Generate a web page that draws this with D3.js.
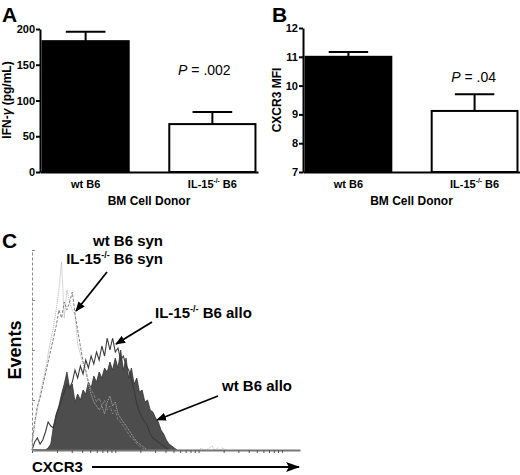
<!DOCTYPE html>
<html>
<head>
<meta charset="utf-8">
<script src="https://cdn.jsdelivr.net/npm/d3@7"></script>
<style>
  body { margin: 0; background: #fff; }
  svg { display: block; font-family: "Liberation Sans", Arial, sans-serif; }
</style>
</head>
<body>
<div id="chart"></div>
<script>
// panels A and B
const donors = ["wt B6", "IL-15-/- B6"];
const ifngMean = [183, 67];
const ifngErr = [13, 17];
const ifngTicks = [0, 50, 100, 150, 200];
const mfiMean = [11.0, 9.12];
const mfiErr = [0.17, 0.58];
const mfiTicks = [7, 8, 9, 10, 11, 12];

// panel C: events per bin, 31 bins per log decade starting at 10^0
const binsPerDecade = 31;
const wtSyn = [2, 12, 20, 28, 34, 40, 48, 55, 62, 70, 80, 94, 66, 80, 74, 70, 68, 53, 48, 43,
  39, 33, 28, 24, 22, 20, 22, 18, 24, 27, 22, 24, 18, 16, 14, 12, 10, 8, 6, 4,
  3, 2, 1, 0, 0, 0, 0, 0, 0, 0, 0, 0, 0, 0, 0, 0, 0, 0, 0, 0,
  0, 0, 0, 1, 0, 0, 1, 2, 0, 1, 0, 1, 0];
const il15Syn = [4, 14, 22, 26, 32, 38, 44, 50, 56, 62, 70, 66, 74, 70, 74, 79, 68, 60, 52, 44,
  40, 34, 30, 28, 24, 26, 22, 25, 20, 22, 18, 20, 15, 14, 12, 10, 8, 6, 5, 3,
  2, 1, 0];
const il15Allo = [0, 4, 6, 3, 5, 9, 14, 12, 11, 17, 21, 25, 29, 33, 31, 34, 40, 36, 42, 38,
  45, 41, 47, 43, 49, 45, 52, 47, 56, 50, 56, 49, 51, 45, 47, 42, 40, 35, 30, 23,
  19, 16, 14, 12, 8, 6, 5, 4, 3, 2, 1, 0];
const wtAllo = [0, 0, 0, 0, 0, 0, 1, 3, 12, 18, 22, 28, 33, 39, 31, 33, 24, 28, 25, 30,
  28, 34, 31, 37, 34, 39, 36, 41, 39, 44, 40, 46, 41, 50, 40, 46, 36, 41, 33, 36,
  29, 30, 24, 25, 20, 19, 16, 14, 10, 8, 5, 3, 2, 1, 0];
const cxcr3Ticks = [1, 2, 3, 4, 5, 6, 7, 8, 9, 10, 20, 30, 40, 50, 60, 70, 80, 90,
  100, 200, 300, 400, 500, 600, 700, 800, 900, 1000];
const eventTicks = [0, 25, 50, 75, 100];

const svg = d3.select("#chart").append("svg")
  .attr("width", 520)
  .attr("height", 475);

const defs = svg.append("defs");
defs.append("marker")
  .attr("id", "head")
  .attr("viewBox", "0 0 10 8")
  .attr("refX", 9).attr("refY", 4)
  .attr("markerUnits", "userSpaceOnUse")
  .attr("markerWidth", 10).attr("markerHeight", 8)
  .attr("orient", "auto")
  .append("path").attr("d", "M0,0L10,4L0,8Z").attr("fill", "#000");
defs.append("marker")
  .attr("id", "bighead")
  .attr("viewBox", "0 0 14 10")
  .attr("refX", 13).attr("refY", 5)
  .attr("markerUnits", "userSpaceOnUse")
  .attr("markerWidth", 14).attr("markerHeight", 10)
  .attr("orient", "auto")
  .append("path").attr("d", "M0,0L14,5L0,10L3,5Z").attr("fill", "#000");

// text with the -/- written as superscript
function supText(text, str, size) {
  const parts = str.split("-/-");
  text.text(null);
  text.append("tspan").text(parts[0]);
  if (parts.length > 1) {
    text.append("tspan").attr("font-size", size * 0.6).attr("dy", -size * 0.42).text("-/-");
    text.append("tspan").attr("dy", size * 0.42).text(parts[1]);
  }
}

function barPanel(opts) {
  const g = svg.append("g");
  const x = d3.scaleBand().domain(donors).range(opts.xRange).paddingInner(0.32).paddingOuter(0.02);
  const y = d3.scaleLinear().domain(opts.domain).range([172, opts.top]);
  const bw = x.bandwidth();

  g.selectAll("rect").data(opts.mean).join("rect")
    .attr("x", (d, i) => x(donors[i]))
    .attr("y", d => y(d))
    .attr("width", bw)
    .attr("height", d => y(opts.domain[0]) - y(d))
    .attr("fill", (d, i) => i === 0 ? "#000" : "#fff")
    .attr("stroke", "#000")
    .attr("stroke-width", 2);

  const err = g.selectAll("g.err").data(opts.mean).join("g").attr("class", "err")
    .attr("stroke", "#000").attr("stroke-width", 2);
  err.append("line")
    .attr("x1", (d, i) => x(donors[i]) + bw / 2)
    .attr("x2", (d, i) => x(donors[i]) + bw / 2)
    .attr("y1", d => y(d))
    .attr("y2", (d, i) => y(d + opts.err[i]));
  err.append("line")
    .attr("x1", (d, i) => x(donors[i]) + bw * 0.27)
    .attr("x2", (d, i) => x(donors[i]) + bw * 0.73)
    .attr("y1", (d, i) => y(d + opts.err[i]))
    .attr("y2", (d, i) => y(d + opts.err[i]));

  const yAxis = g.append("g")
    .attr("transform", `translate(${opts.xRange[0]},0)`)
    .call(d3.axisLeft(y).tickValues(opts.ticks).tickFormat(d3.format("d"))
      .tickSize(4).tickPadding(1).tickSizeOuter(0));
  const xAxis = g.append("g")
    .attr("transform", "translate(0,172)")
    .call(d3.axisBottom(x).tickSize(0).tickPadding(8).tickSizeOuter(0));
  xAxis.selectAll(".tick text").each(function (d) { supText(d3.select(this), d, 11); });

  [yAxis, xAxis].forEach(a => {
    a.attr("font-family", null).attr("font-size", 11).attr("font-weight", "bold");
    a.selectAll("path, line").attr("stroke-width", 2).attr("stroke", "#000");
    a.selectAll("text").attr("fill", "#000");
  });

  g.append("text")
    .attr("x", (opts.xRange[0] + opts.xRange[1]) / 2)
    .attr("y", 205)
    .attr("text-anchor", "middle")
    .attr("font-size", 12).attr("font-weight", "bold")
    .text("BM Cell Donor");

  const yt = g.append("text")
    .attr("transform", `translate(${opts.titleX},100) rotate(-90)`)
    .attr("text-anchor", "middle")
    .attr("font-size", 12).attr("font-weight", "bold");
  opts.title(yt);

  const p = g.append("text")
    .attr("x", x(donors[1]) + bw / 2 + opts.pShift)
    .attr("y", y(opts.pAt))
    .attr("text-anchor", "middle")
    .attr("font-size", 14);
  p.append("tspan").attr("font-style", "italic").text("P");
  p.append("tspan").text(" " + opts.p);

  g.append("text")
    .attr("x", opts.letterX).attr("y", 22)
    .attr("font-size", 21).attr("font-weight", "bold")
    .text(opts.letter);
}

barPanel({
  letter: "A", letterX: 2,
  xRange: [40, 258], domain: [0, 200], top: 29, ticks: ifngTicks,
  mean: ifngMean, err: ifngErr,
  titleX: 11,
  title: t => {
    t.append("tspan").text("IFN-");
    t.append("tspan").attr("font-style", "italic").text("γ");
    t.append("tspan").text(" (pg/mL)");
  },
  p: "= .002", pAt: 136, pShift: -8
});

barPanel({
  letter: "B", letterX: 272,
  xRange: [303, 520], domain: [7, 12], top: 28, ticks: mfiTicks,
  mean: mfiMean, err: mfiErr,
  titleX: 281,
  title: t => t.text("CXCR3 MFI"),
  p: "= .04", pAt: 10.13, pShift: -1
});

// panel C
const gc = svg.append("g");
const xC = d3.scaleLog().domain([1, 1650]).range([32, 300]);
const yC = d3.scaleLinear().domain([0, 100]).range([450, 250]);
const binX = i => xC(10 ** (i / binsPerDecade));

gc.append("path")
  .datum(wtAllo)
  .attr("d", d3.area().x((d, i) => binX(i)).y0(yC(0)).y1(d => yC(d)))
  .attr("fill", "#4d4d4d")
  .attr("stroke", "#333")
  .attr("stroke-width", 0.8);

const line = d3.line().x((d, i) => binX(i)).y(d => yC(d));
gc.append("path").datum(wtSyn).attr("d", line)
  .attr("fill", "none").attr("stroke", "#b0b0b0").attr("stroke-width", 1)
  .attr("stroke-dasharray", "1,1");
gc.append("path").datum(il15Syn).attr("d", line)
  .attr("fill", "none").attr("stroke", "#808080").attr("stroke-width", 1)
  .attr("stroke-dasharray", "3,1.5");
gc.append("path").datum(il15Allo).attr("d", line)
  .attr("fill", "none").attr("stroke", "#3a3a3a").attr("stroke-width", 1.1);

const cx = gc.append("g")
  .attr("transform", "translate(0,450)")
  .call(d3.axisBottom(xC).tickValues(cxcr3Ticks).tickFormat("").tickSize(3).tickSizeOuter(0));
cx.select(".domain").attr("stroke", "#777").attr("stroke-width", 2);
cx.selectAll(".tick line").attr("stroke", "#555");

const cy = gc.append("g")
  .attr("transform", "translate(32,0)")
  .call(d3.axisRight(yC).tickValues(eventTicks).tickFormat("").tickSize(3).tickSizeOuter(0));
cy.select(".domain").attr("stroke", "#888").attr("stroke-width", 1).attr("stroke-dasharray", "3,2");
cy.selectAll(".tick line").attr("stroke", "#888");

gc.append("text")
  .attr("x", 2).attr("y", 248)
  .attr("font-size", 21).attr("font-weight", "bold")
  .text("C");

gc.append("text")
  .attr("transform", "translate(21,350) rotate(-90)")
  .attr("text-anchor", "middle")
  .attr("font-size", 18).attr("font-weight", "bold")
  .text("Events");

gc.append("text")
  .attr("x", 32).attr("y", 472)
  .attr("font-size", 15).attr("font-weight", "bold")
  .text("CXCR3");
gc.append("line")
  .attr("x1", 92).attr("y1", 467).attr("x2", 299).attr("y2", 467)
  .attr("stroke", "#000").attr("stroke-width", 2)
  .attr("marker-end", "url(#bighead)");

// annotations: text anchor, arrow start and tip
const notes = [
  { lines: ["wt B6 syn", "IL-15-/- B6 syn"], x: 163, y: 246, anchor: "end", from: [107, 272], to: [76, 311] },
  { lines: ["IL-15-/- B6 allo"], x: 155, y: 318, anchor: "start", from: [152, 322], to: [116, 344] },
  { lines: ["wt B6 allo"], x: 222, y: 391, anchor: "start", from: [218, 396], to: [157, 420] }
];
notes.forEach(n => {
  n.lines.forEach((s, k) => {
    const t = gc.append("text")
      .attr("x", n.x).attr("y", n.y + k * 18)
      .attr("text-anchor", n.anchor)
      .attr("font-size", 15).attr("font-weight", "bold");
    supText(t, s, 15);
  });
  gc.append("line")
    .attr("x1", n.from[0]).attr("y1", n.from[1])
    .attr("x2", n.to[0]).attr("y2", n.to[1])
    .attr("stroke", "#000").attr("stroke-width", 1.8)
    .attr("marker-end", "url(#head)");
});
</script>
</body>
</html>
